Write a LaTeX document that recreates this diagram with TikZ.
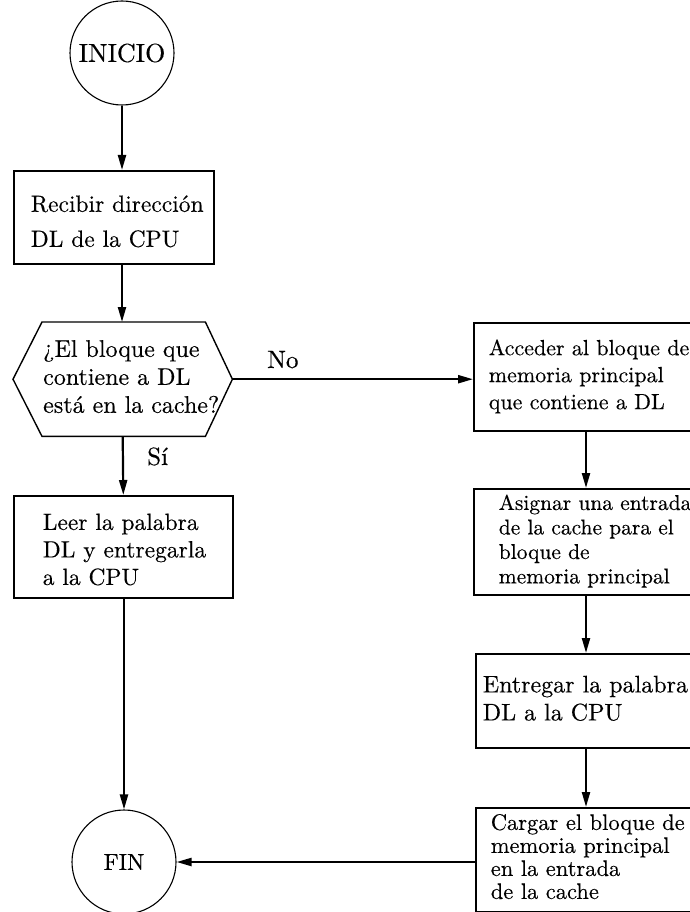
\documentclass[tikz,border=0pt]{standalone}
\usepackage{fontspec}
% the 10pt design of Latin Modern, used at every size, slightly heavier
\setmainfont{lmroman10-regular.otf}[FakeBold=0.3]
\usetikzlibrary{arrows.meta,calc}
% one left-aligned block of lines, set at the current font size and baselineskip
\newcommand{\boxlines}[1]{\begin{tabular}{@{}l@{}}#1\end{tabular}}

\begin{document}
\begin{tikzpicture}[x=1pt,y=-1pt,
  flow/.style={line width=2.2pt, -{Triangle[length=15pt,width=8pt]}},
  stepbox/.style={draw, line width=1.6pt, rectangle, anchor=north west,
    inner sep=0pt, align=left},
  terminal/.style={draw, circle, line width=1.1pt, minimum size=104pt, inner sep=0pt},
  tag/.style={inner sep=0pt, anchor=base west, font=\fontsize{25}{30}\selectfont}
]
\useasboundingbox (0,0) rectangle (690,912);
\clip (0,0) rectangle (690,912);
\fill[white] (0,0) rectangle (690,912);

% left column
\node[terminal, font=\fontsize{26}{30}\selectfont] (inicio) at (122,53) {INICIO};

\node[stepbox, text width=200pt, minimum height=93pt,
      font=\fontsize{23.5}{35}\selectfont] (recibir) at (13,170)
  {\hspace*{17pt}\boxlines{\rule{0pt}{34.5pt}Recibir dirección\\DL de la CPU}};

\node[inner sep=0pt, anchor=north west, text width=219pt, minimum height=114pt,
      align=left, font=\fontsize{24}{28}\selectfont] (query) at (13,322)
  {\hspace*{30pt}\boxlines{¿El bloque que\\contiene a DL\\está en la cache?}};
\draw[line width=1.4pt]
  (query.west) -- ($(query.north west)+(29,0)$) -- ($(query.north east)+(-27,0)$)
  -- (query.east) -- ($(query.south east)+(-27,0)$) -- ($(query.south west)+(29,0)$)
  -- cycle;

\node[stepbox, text width=219pt, minimum height=102pt,
      font=\fontsize{23.5}{27.5}\selectfont] (leer) at (13,495)
  {\hspace*{29pt}\boxlines{\rule{0pt}{29.5pt}Leer la palabra\\DL y entregarla\\a la CPU}};

\node[terminal, font=\fontsize{23}{28}\selectfont] (fin) at (124,862) {FIN};

% right column
\node[stepbox, text width=237pt, minimum height=108pt,
      font=\fontsize{22}{27}\selectfont] (acceder) at (473,322)
  {\hspace*{15pt}\boxlines{Acceder al bloque de\\memoria principal\\que contiene a DL}};

\node[stepbox, text width=237pt, minimum height=106pt,
      font=\fontsize{21.5}{24.5}\selectfont] (asignar) at (473,488)
  {\hspace*{25pt}\boxlines{Asignar una entrada\\de la cache para el\\bloque de\\memoria principal}};

\node[stepbox, text width=235pt, minimum height=94pt,
      font=\fontsize{24}{28}\selectfont] (entregar) at (475,653)
  {\hspace*{7pt}\boxlines{Entregar la palabra\\DL a la CPU}};

\node[stepbox, text width=235pt, minimum height=104pt,
      font=\fontsize{22.5}{23}\selectfont] (cargar) at (475,807)
  {\hspace*{15pt}\boxlines{Cargar el bloque de\\memoria principal\\en la entrada\\de la cache}};

% branch labels
\node[tag] (no) at (267,368) {No};
\node[tag] (si) at (147,465) {Sí};

% connectors
\coordinate (rcol) at (586,0);
\draw[flow] (inicio.south) -- (inicio.south |- recibir.north);
\draw[flow] (recibir.south -| inicio) -- (query.north -| inicio);
\draw[flow] (query.south) -- (leer.north);
\draw[flow] (leer.south -| fin) -- (fin.north);
\draw[flow] (query.east) -- (query.east -| acceder.west);
\draw[flow] (acceder.south -| rcol) -- (asignar.north -| rcol);
\draw[flow] (asignar.south -| rcol) -- (entregar.north -| rcol);
\draw[flow] (entregar.south -| rcol) -- (cargar.north -| rcol);
\draw[flow] (fin.east -| cargar.west) -- (fin.east);
\end{tikzpicture}
\end{document}
